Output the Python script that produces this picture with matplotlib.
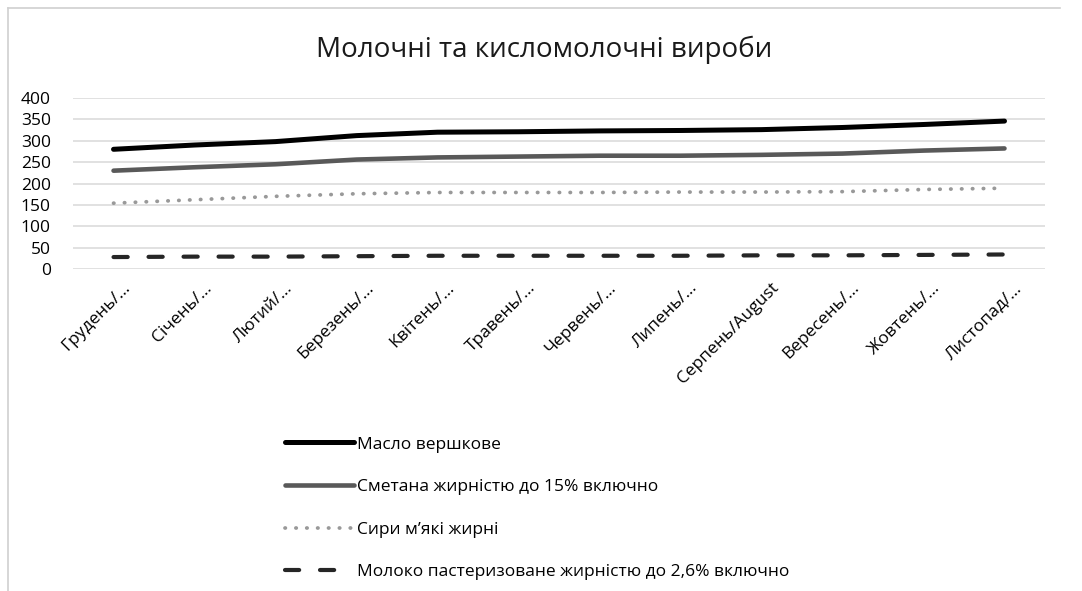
import matplotlib.pyplot as plt
from matplotlib.lines import Line2D
import matplotlib.transforms as mtransforms

plt.rcParams["font.family"] = ["Open Sans", "DejaVu Sans"]

months = ["Грудень/…", "Січень/…", "Лютий/…", "Березень/…", "Квітень/…",
          "Травень/…", "Червень/…", "Липень/…", "Серпень/August",
          "Вересень/…", "Жовтень/…", "Листопад/…"]

butter = [280, 290, 298, 312, 320, 321, 323, 324, 326, 331, 338, 346]
sour_cream = [230, 238, 245, 256, 261, 263, 265, 265, 267, 270, 277, 282]
soft_cheese = [154, 162, 170, 176, 179, 179, 179, 180, 180, 181, 186, 189]
milk = [28, 29, 29, 30, 31, 31, 31, 31, 32, 32, 33, 34]

labels = ["Масло вершкове",
          "Сметана жирністю до 15% включно",
          "Сири м’які жирні",
          "Молоко пастеризоване жирністю до 2,6% включно"]

fig = plt.figure(figsize=(10.82, 5.91), dpi=100)
ax = fig.add_axes([0.0675, 0.5448, 0.8983, 0.2894])

x = range(len(months))
ax.plot(x, butter, color="#000000", lw=3.6, solid_capstyle="round", label=labels[0])
ax.plot(x, sour_cream, color="#595959", lw=3.3, solid_capstyle="round", label=labels[1])
ax.plot(x, soft_cheese, color="#999999", lw=2.7, linestyle=(0, (0.1, 2.8)),
        dash_capstyle="round", label=labels[2])
ax.plot(x, milk, color="#262626", lw=3.0, linestyle=(0, (3.4, 5.0)),
        dash_capstyle="round", label=labels[3])

ax.set_xlim(-0.5, len(months) - 0.5)
ax.set_ylim(0, 400)
ax.set_yticks(range(0, 401, 50))
ax.yaxis.grid(True, color="#d9d9d9", lw=1.1)
ax.set_axisbelow(True)
for s in ax.spines.values():
    s.set_visible(False)
ax.tick_params(axis="both", length=0, labelsize=12.5, colors="#000000")
ax.tick_params(axis="y", pad=16)

ax.set_xticks(list(x))
ax.set_xticklabels(months, rotation=45, ha="right", rotation_mode="anchor", fontsize=12.5)
offset = mtransforms.ScaledTranslation(0.09, -0.06, fig.dpi_scale_trans)
for t in ax.get_xticklabels():
    t.set_transform(t.get_transform() + offset)

fig.text(0.503, 0.915, "Молочні та кисломолочні вироби", ha="center", va="center",
         fontsize=20, color="#1a1a1a")

fig.legend(loc="upper left", bbox_to_anchor=(0.249, 0.288), frameon=False,
           fontsize=12.5, handlelength=4.0, handletextpad=0.15, labelspacing=1.52)

# chart frame (top and left edges)
fig.add_artist(Line2D([0.0074, 0.98], [0.9873, 0.9873], color="#d0d0d0", lw=1.2,
                      transform=fig.transFigure))
fig.add_artist(Line2D([0.0074, 0.0074], [0.0, 0.9873], color="#d0d0d0", lw=1.2,
                      transform=fig.transFigure))

fig.savefig("out.png", dpi=100)
